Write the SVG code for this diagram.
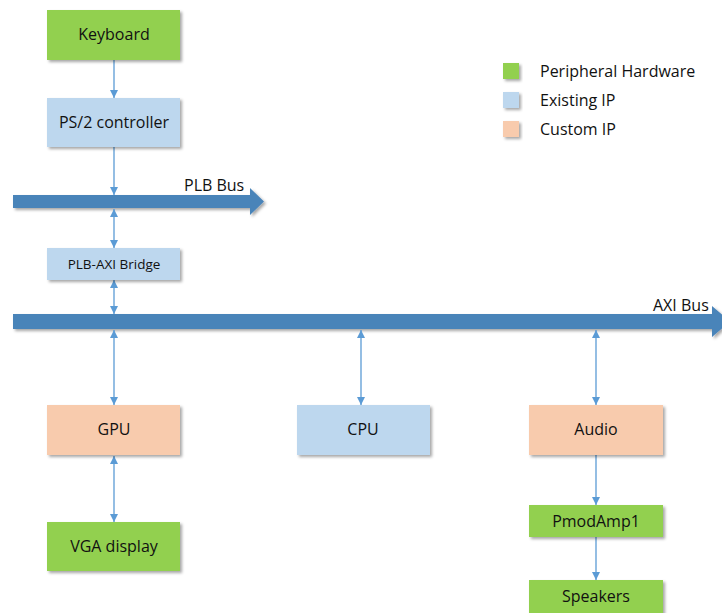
<svg xmlns="http://www.w3.org/2000/svg" width="722" height="613" viewBox="0 0 722 613">
<defs>
<filter id="sh" x="-10%" y="-20%" width="130%" height="160%">
<feDropShadow dx="2" dy="2" stdDeviation="1.5" flood-color="#000" flood-opacity="0.35"/>
</filter>
<marker id="ah" viewBox="0 0 10 10" refX="10" refY="5" markerWidth="8" markerHeight="8" markerUnits="userSpaceOnUse" orient="auto-start-reverse">
<path d="M0,0 L10,5 L0,10 Z" fill="#5B9BD5"/>
</marker>
<style>
.box{filter:url(#sh);}
.g{fill:#92D050;}
.b{fill:#BDD7EE;}
.o{fill:#F8CBAD;}
.bus{fill:#4A84B9;filter:url(#sh);}
.t{font-family:"Open Sans","Liberation Sans",sans-serif;font-size:16px;fill:#111;text-anchor:middle;dominant-baseline:central;}
.ts{font-size:13.5px;}
.lt{font-family:"Open Sans","Liberation Sans",sans-serif;font-size:16px;fill:#111;}
.c{stroke:#5B9BD5;stroke-width:1.3;fill:none;}
</style>
</defs>
<g id="buses">
<polygon class="bus" points="13,195 250,195 250,188 264,201.5 250,215 250,208 13,208"/>
<polygon class="bus" points="13,314 712,314 712,306 730,321.5 712,337 712,329 13,329"/>
<text class="lt" x="184" y="191">PLB Bus</text>
<text class="lt" x="653" y="311">AXI Bus</text>
</g>
<g id="connectors">
<line class="c" x1="114" y1="60" x2="114" y2="98" marker-end="url(#ah)"/>
<line class="c" x1="114" y1="147" x2="114" y2="195" marker-end="url(#ah)"/>
<line class="c" x1="114" y1="209" x2="114" y2="248" marker-start="url(#ah)" marker-end="url(#ah)"/>
<line class="c" x1="114" y1="280" x2="114" y2="314" marker-start="url(#ah)" marker-end="url(#ah)"/>
<line class="c" x1="114" y1="330" x2="114" y2="405" marker-start="url(#ah)" marker-end="url(#ah)"/>
<line class="c" x1="114" y1="456" x2="114" y2="522" marker-start="url(#ah)" marker-end="url(#ah)"/>
<line class="c" x1="361" y1="330" x2="361" y2="405" marker-start="url(#ah)" marker-end="url(#ah)"/>
<line class="c" x1="596" y1="330" x2="596" y2="405" marker-start="url(#ah)" marker-end="url(#ah)"/>
<line class="c" x1="596" y1="455" x2="596" y2="505" marker-end="url(#ah)"/>
<line class="c" x1="596" y1="537" x2="596" y2="580" marker-end="url(#ah)"/>
</g>
<g id="keyboard"><rect class="box g" x="47" y="10" width="133" height="50"/><text class="t" x="114" y="34">Keyboard</text></g>
<g id="ps2"><rect class="box b" x="47" y="98" width="133" height="49"/><text class="t" x="114" y="122">PS/2 controller</text></g>
<g id="bridge"><rect class="box b" x="47" y="248" width="133" height="32"/><text class="t ts" x="114" y="263.5">PLB-AXI Bridge</text></g>
<g id="gpu"><rect class="box o" x="47" y="405" width="133" height="50"/><text class="t" x="114" y="429">GPU</text></g>
<g id="vga"><rect class="box g" x="47" y="522" width="133" height="49"/><text class="t" x="114" y="546">VGA display</text></g>
<g id="cpu"><rect class="box b" x="297" y="405" width="133" height="50"/><text class="t" x="363" y="429">CPU</text></g>
<g id="audio"><rect class="box o" x="529" y="405" width="134" height="50"/><text class="t" x="596" y="429">Audio</text></g>
<g id="pmodamp1"><rect class="box g" x="529" y="505" width="134" height="32"/><text class="t" x="596" y="520.5">PmodAmp1</text></g>
<g id="speakers"><rect class="box g" x="529" y="580" width="134" height="36"/><text class="t" x="596" y="596">Speakers</text></g>
<g id="legend">
<rect class="box g" x="503" y="63" width="16" height="16"/>
<rect class="box b" x="503" y="92" width="16" height="16"/>
<rect class="box o" x="503" y="121" width="16" height="16"/>
<text class="lt" x="540" y="77">Peripheral Hardware</text>
<text class="lt" x="540" y="106">Existing IP</text>
<text class="lt" x="540" y="135">Custom IP</text>
</g>
</svg>
